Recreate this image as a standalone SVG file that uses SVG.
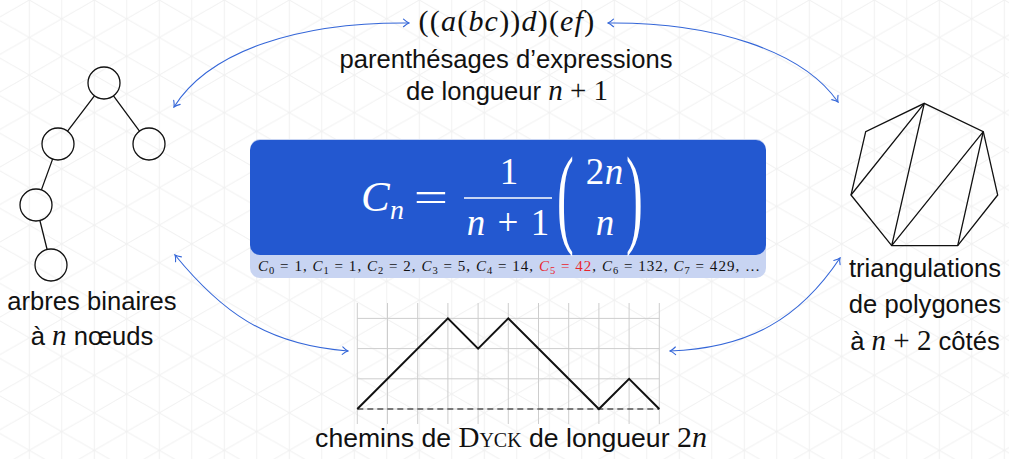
<svg xmlns="http://www.w3.org/2000/svg" width="1009" height="459" viewBox="0 0 1009 459">
<style>
.sans{font-family:"Liberation Sans",Arial,sans-serif;font-size:25.6px;fill:#111}
.mi{font-family:"Liberation Serif","Times New Roman",serif;font-style:italic}
.rm{font-family:"Liberation Serif","Times New Roman",serif;font-style:normal}
.wf{fill:#fff;font-family:"Liberation Serif","Times New Roman",serif}
.node{fill:none;stroke:#111;stroke-width:1.3}
.conn{fill:none;stroke:#3466d8;stroke-width:1.1;marker-start:url(#tip);marker-end:url(#tip)}
.grid{stroke:#cdcdcd;stroke-width:1}
</style>
<defs>
<pattern id="tri" patternUnits="userSpaceOnUse" x="13.05" y="0" width="65" height="37.53">
<path d="M16.25,0V37.53M48.75,0V37.53M0,-9.38L65,28.15M0,28.15L65,65.68M0,46.91L65,9.38M0,9.38L65,-28.15" stroke="#f1f1f1" stroke-width="1" fill="none"/>
</pattern>
<marker id="tip" viewBox="-7 -5 8 10" refX="0" refY="0" markerUnits="userSpaceOnUse" markerWidth="8" markerHeight="10" orient="auto-start-reverse">
<path d="M-5.5,-3.8 Q-2,-0.6 0,0 Q-2,0.6 -5.5,3.8" fill="none" stroke="#3466d8" stroke-width="1.1" stroke-linecap="round"/>
</marker>
</defs>
<rect width="1009" height="459" fill="#fff"/>
<rect width="1009" height="459" fill="url(#tri)"/>

<g id="connectors">
<path class="conn" d="M174,107 C210,50 300,22 409,23"/>
<path class="conn" d="M608,23 C712,22 802,50 838,102"/>
<path class="conn" d="M175,255 C220,310 265,345 348,351"/>
<path class="conn" d="M670,351 C750,348 800,318 840,258"/>
</g>

<g id="node-parentheses">
<text x="507" y="31" text-anchor="middle" font-size="30" letter-spacing="1.2" class="mi" fill="#111"><tspan class="rm">((</tspan>a<tspan class="rm">(</tspan>bc<tspan class="rm">))</tspan>d<tspan class="rm">)(</tspan>ef<tspan class="rm">)</tspan></text>
<text x="506" y="68" text-anchor="middle" class="sans">parenthésages d’expressions</text>
<text x="507" y="100" text-anchor="middle" class="sans">de longueur <tspan class="mi" font-size="29">n</tspan><tspan class="rm" font-size="29"> + 1</tspan></text>
</g>

<g id="node-trees">
<circle class="node" cx="104" cy="83" r="16"/>
<circle class="node" cx="58" cy="144" r="16"/>
<circle class="node" cx="149" cy="144" r="16"/>
<circle class="node" cx="36" cy="205" r="16"/>
<circle class="node" cx="51" cy="265" r="16"/>
<path class="node" d="M94.4,95.8L67.6,131.2M113.5,95.9L139.5,131.1M52.6,159.1L41.4,189.9M39.9,220.5L47.1,249.5"/>
<text x="92" y="310" text-anchor="middle" class="sans">arbres binaires</text>
<text x="92" y="345" text-anchor="middle" class="sans">à <tspan class="mi" font-size="29">n</tspan> nœuds</text>
</g>

<g id="node-polygon">
<polygon class="node" points="924.3,103.3 983.3,131.7 997.7,195 957.7,245.7 891.7,245.7 851,195 865.7,131.7"/>
<path class="node" d="M924.3,103.3L851,195M924.3,103.3L891.7,245.7M983.3,131.7L891.7,245.7M983.3,131.7L957.7,245.7"/>
<text x="925" y="277" text-anchor="middle" class="sans">triangulations</text>
<text x="925" y="313" text-anchor="middle" class="sans">de polygones</text>
<text x="925" y="350" text-anchor="middle" class="sans">à <tspan class="mi" font-size="29">n</tspan><tspan class="rm" font-size="29"> + 2</tspan> côtés</text>
</g>

<g id="node-formula">
<rect x="250" y="139" width="516" height="139" rx="10" fill="#c8d4f2"/>
<rect x="250" y="140" width="516" height="115" rx="10" fill="#2358d0"/>
<text class="wf mi" x="361" y="211" font-size="43">C</text>
<text class="wf mi" x="390" y="219" font-size="28">n</text>
<text class="wf" font-size="42" text-anchor="middle" transform="translate(431,211) scale(1.45,1)">=</text>
<line x1="464" y1="198" x2="552" y2="198" stroke="#fff" stroke-width="1.6"/>
<text class="wf" x="509" y="184" font-size="37" text-anchor="middle">1</text>
<text class="wf mi" x="476" y="235" font-size="37" text-anchor="middle">n</text>
<text class="wf" x="508" y="235" font-size="37" text-anchor="middle">+</text>
<text class="wf" x="540" y="235" font-size="37" text-anchor="middle">1</text>
<text class="wf" font-size="48" transform="translate(557,233) scale(1.05,2.3)">(</text>
<text class="wf" x="595" y="184" font-size="37" text-anchor="middle">2</text>
<text class="wf mi" x="614" y="184" font-size="37" text-anchor="middle">n</text>
<text class="wf mi" x="605" y="235" font-size="37" text-anchor="middle">n</text>
<text class="wf" font-size="48" transform="translate(626,233) scale(1.05,2.3)">)</text>
<text x="258" y="271" font-size="15" class="rm" fill="#111" textLength="502" lengthAdjust="spacing"><tspan class="mi">C</tspan><tspan font-size="10.5" dy="2.5">0</tspan><tspan dy="-2.5"> = 1, </tspan><tspan class="mi">C</tspan><tspan font-size="10.5" dy="2.5">1</tspan><tspan dy="-2.5"> = 1, </tspan><tspan class="mi">C</tspan><tspan font-size="10.5" dy="2.5">2</tspan><tspan dy="-2.5"> = 2, </tspan><tspan class="mi">C</tspan><tspan font-size="10.5" dy="2.5">3</tspan><tspan dy="-2.5"> = 5, </tspan><tspan class="mi">C</tspan><tspan font-size="10.5" dy="2.5">4</tspan><tspan dy="-2.5"> = 14, </tspan><tspan class="mi" fill="#e8252e">C</tspan><tspan font-size="10.5" dy="2.5" fill="#e8252e">5</tspan><tspan dy="-2.5" fill="#e8252e"> = 42</tspan><tspan>, </tspan><tspan class="mi">C</tspan><tspan font-size="10.5" dy="2.5">6</tspan><tspan dy="-2.5"> = 132, </tspan><tspan class="mi">C</tspan><tspan font-size="10.5" dy="2.5">7</tspan><tspan dy="-2.5"> = 429, …</tspan></text>
</g>

<g id="node-dyck">
<path class="grid" d="M357.3,303V424M387.5,303V424M417.7,303V424M447.9,303V424M478.1,303V424M508.3,303V424M538.5,303V424M568.7,303V424M598.9,303V424M629.1,303V424M659.3,303V424M357.3,318.4H659.3M357.3,348.6H659.3M357.3,378.8H659.3M357.3,409H659.3"/>
<line x1="357.3" y1="409" x2="659.3" y2="409" stroke="#555" stroke-width="1.5" stroke-dasharray="6,4"/>
<polyline points="357.3,409 447.9,318.4 478.1,348.6 508.3,318.4 598.9,409 629.1,378.8 659.3,409" fill="none" stroke="#111" stroke-width="2" stroke-linejoin="miter"/>
<text x="511" y="447" text-anchor="middle" class="sans" font-size="26.6" style="font-size:26.6px">chemins de <tspan class="rm" font-size="29" font-variant="small-caps">Dyck</tspan> de longueur <tspan class="rm" font-size="30">2</tspan><tspan class="mi" font-size="30">n</tspan></text>
</g>
</svg>
